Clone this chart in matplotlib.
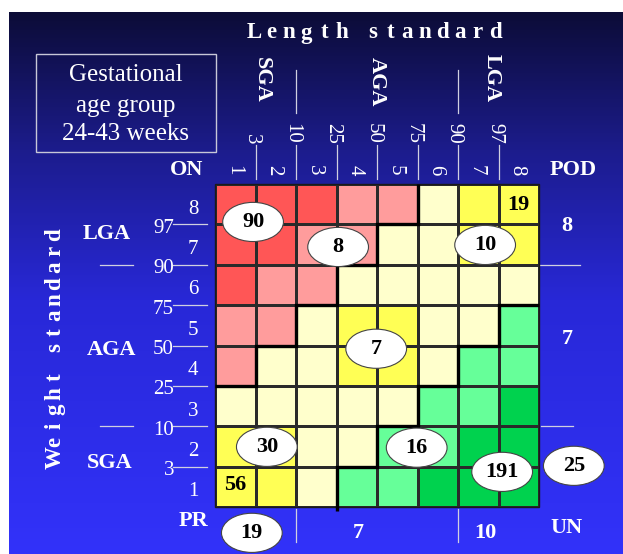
import numpy as np
import matplotlib
matplotlib.use("Agg")
import matplotlib.pyplot as plt
from matplotlib.colors import ListedColormap
from matplotlib.patches import Ellipse, Rectangle

plt.rcParams['font.family'] = ['Liberation Serif', 'DejaVu Serif']

# ---------------- data ----------------
# cell classes, rows listed from top (row 8) to bottom (row 1), columns 1..8
# R = red, P = pink, L = light yellow, Y = yellow, G = light green, D = dark green
cell_rows = [
    "RRRPPLYY",  # row 8
    "RRPPLLYY",  # row 7
    "RPPLLLLL",  # row 6
    "PPLYYLLG",  # row 5
    "PLLYYLGG",  # row 4
    "LLLLLGGD",  # row 3
    "YYLLGGDD",  # row 2
    "YYLGGDDD",  # row 1
]
class_codes = ["R", "P", "L", "Y", "G", "D"]
class_colors = ["#FF5656", "#FF9C9C", "#FFFFCC", "#FFFF55", "#66FF99", "#00D24E"]

col_numbers = ["1", "2", "3", "4", "5", "6", "7", "8"]
row_numbers = ["1", "2", "3", "4", "5", "6", "7", "8"]
percentiles = ["3", "10", "25", "50", "75", "90", "97"]   # at boundaries 1..7

# staircase boundaries (grid units)
upper_x = [0, 1, 1, 2, 2, 3, 3, 4, 4, 5, 5]
upper_y = [3, 3, 4, 4, 5, 5, 6, 6, 7, 7, 8]
lower_x = [3, 3, 4, 4, 5, 5, 6, 6, 7, 7, 8]
lower_y = [-0.1, 1, 1, 2, 2, 3, 3, 4, 4, 5, 5]

# counts in ellipses: value, x, y (grid units)
ellipse_counts = [90, 8, 10, 7, 30, 16, 191, 25, 19]
ellipse_x = [0.94, 3.04, 6.67, 3.98, 1.28, 4.98, 7.09, 8.86, 0.91]
ellipse_y = [7.06, 6.44, 6.49, 3.92, 1.49, 1.47, 0.87, 1.02, -0.64]
# counts as plain text
plain_counts = [19, 56]
plain_x = [7.48, 0.49]
plain_y = [7.48, 0.55]

# region totals
pod_counts = ["8", "7"]
bottom_counts = ["7", "10"]

# ---------------- figure ----------------
W, H = 623, 554
fig = plt.figure(figsize=(W / 100, H / 100), dpi=100)
fig.patch.set_facecolor("white")

ov = fig.add_axes([0, 0, 1, 1], zorder=0)
ov.axis("off")

# background gradient
stops_y = np.array([12, 150, 300, 554])
stops_c = np.array([[12, 12, 55], [28, 28, 140], [40, 40, 215], [50, 50, 250]]) / 255.0
ys = np.linspace(12, 554, 400)
grad = np.stack([np.interp(ys, stops_y, stops_c[:, k]) for k in range(3)], axis=1)
grad = np.repeat(grad[:, None, :], 2, axis=1)
ov.imshow(grad, extent=[9, W, H, 12], aspect="auto", interpolation="bilinear", zorder=0)
ov.set_xlim(0, W)
ov.set_ylim(H, 0)

# grid geometry in pixels
GX0, GY0, GX1, GY1 = 215, 184, 539, 507
cw = (GX1 - GX0) / 8.0
ch = (GY1 - GY0) / 8.0
gx = lambda c: GX0 + c * cw
gy = lambda r: GY1 - r * ch

WHITE = "white"
LINEC = "#D0D0E0"
lw_thin = 0.9

# ---- title box
ov.add_patch(Rectangle((36, 54), 180, 98, fill=False, edgecolor="#C8C8D8", lw=1.0, zorder=2))
for txt, yy in zip(["Gestational", "age group", "24-43 weeks"], [75, 106, 134]):
    ov.text(126, yy, txt, color=WHITE, fontsize=18, ha="center", va="center", zorder=3)

# ---- Length standard (letter spaced)
def spaced(word_list, start, step, gap):
    pos = []
    p = start
    for w in word_list:
        for chh in w:
            pos.append((chh, p))
            p += step
        p += gap - step
    return pos

for chh, p in spaced(["Length", "standard"], 254, 17.5, 31):
    ov.text(p, 33, chh, color=WHITE, fontsize=16.5, fontweight="bold", ha="center", va="center")

for chh, p in spaced(["Weight", "standard"], 458, -16.2, -29):
    ov.text(55, p, chh, color=WHITE, fontsize=16.5, fontweight="bold", ha="center", va="center",
            rotation=90)

# ---- top labels
for txt, xx, yy in zip(["SGA", "AGA", "LGA"], [262, 377, 492], [80, 82, 78]):
    ov.text(xx, yy, txt, color=WHITE, fontsize=16, fontweight="bold", ha="center", va="center",
            rotation=-90)
for b in [2, 6]:
    ov.plot([gx(b), gx(b)], [70, 113], color=LINEC, lw=lw_thin)
for i, lab in enumerate(percentiles):
    b = i + 1
    ov.text(gx(b) - 4, 144, lab, color=WHITE, fontsize=15, ha="center", va="bottom", rotation=-90)
    ov.plot([gx(b), gx(b)], [145, 179], color=LINEC, lw=lw_thin)
for i, lab in enumerate(col_numbers):
    ov.text(gx(i + 0.5) - 2, 170, lab, color=WHITE, fontsize=15, ha="center", va="center",
            rotation=-90)
ov.text(187, 170, "ON", color=WHITE, fontsize=16, fontweight="bold", ha="center", va="center")
ov.text(573, 170, "POD", color=WHITE, fontsize=16, fontweight="bold", ha="center", va="center")

# ---- left labels
for i, lab in enumerate(row_numbers):
    ov.text(193, gy(i + 0.5) + 5, lab, color=WHITE, fontsize=15, ha="center", va="center")
for i, lab in enumerate(percentiles):
    b = i + 1
    ov.text(174, gy(b) + 4, lab, color=WHITE, fontsize=15, ha="right", va="center")
    ov.plot([173, 207], [gy(b), gy(b)], color=LINEC, lw=lw_thin)
for txt, xx, yy in zip(["LGA", "AGA", "SGA"], [107, 112, 110], [234, 350, 463]):
    ov.text(xx, yy, txt, color=WHITE, fontsize=16, fontweight="bold", ha="center", va="center")
for b in [6, 2]:
    ov.plot([100, 133], [gy(b), gy(b)], color=LINEC, lw=lw_thin)
ov.text(193, 521, "PR", color=WHITE, fontsize=16, fontweight="bold", ha="center", va="center")

# ---- right labels
ov.text(567, 226, pod_counts[0], color=WHITE, fontsize=16, fontweight="bold", ha="center", va="center")
ov.text(567, 339, pod_counts[1], color=WHITE, fontsize=16, fontweight="bold", ha="center", va="center")
ov.plot([540, 580], [gy(6), gy(6)], color=LINEC, lw=lw_thin)
ov.plot([541, 573], [gy(2), gy(2)], color=LINEC, lw=lw_thin)
ov.text(566, 528, "UN", color=WHITE, fontsize=16, fontweight="bold", ha="center", va="center")

# ---- bottom labels
for b in [2, 6]:
    ov.plot([gx(b), gx(b)], [GY1 + 2, 542], color=LINEC, lw=lw_thin)
ov.text(358, 533, bottom_counts[0], color=WHITE, fontsize=16, fontweight="bold", ha="center", va="center")
ov.text(485, 533, bottom_counts[1], color=WHITE, fontsize=16, fontweight="bold", ha="center", va="center")

# ---------------- grid axes ----------------
gax = fig.add_axes([GX0 / W, (H - GY1) / H, (GX1 - GX0) / W, (GY1 - GY0) / H], zorder=1)
gax.set_xlim(0, 8)
gax.set_ylim(0, 8)
gax.axis("off")

Z = np.array([[class_codes.index(c) for c in row] for row in cell_rows[::-1]])
cmap = ListedColormap(class_colors)
gax.pcolormesh(np.arange(9), np.arange(9), Z, cmap=cmap, vmin=-0.5, vmax=len(class_colors) - 0.5,
               edgecolors="#2a2a2a", linewidth=0.8)
gax.add_patch(Rectangle((0, 0), 8, 8, fill=False, edgecolor="#1a1a1a", lw=1.0, clip_on=False))

gax.plot(upper_x, upper_y, color="black", lw=2.4, solid_capstyle="butt", solid_joinstyle="miter",
         clip_on=False, zorder=3)
gax.plot(lower_x, lower_y, color="black", lw=2.4, solid_capstyle="butt", solid_joinstyle="miter",
         clip_on=False, zorder=3)

for v, x, y in zip(ellipse_counts, ellipse_x, ellipse_y):
    gax.add_patch(Ellipse((x, y), 1.5, 0.97, facecolor="white", edgecolor="#444444", lw=0.8,
                          clip_on=False, zorder=4))
    gax.text(x, y, str(v), fontsize=16, fontweight="bold", color="black", ha="center", va="center",
             zorder=5, clip_on=False)
for v, x, y in zip(plain_counts, plain_x, plain_y):
    gax.text(x, y, str(v), fontsize=16, fontweight="bold", color="black", ha="center", va="center",
             zorder=5)

fig.savefig("out.png", dpi=100)
